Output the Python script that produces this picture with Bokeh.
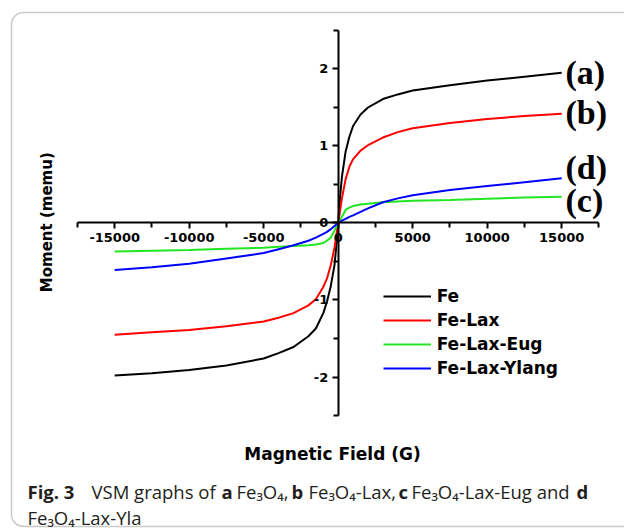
from bokeh.plotting import figure
from bokeh.models import (LinearAxis, FixedTicker, Range1d, Label, Legend, LegendItem,
                          BoxAnnotation, PrintfTickFormatter)
from bokeh.embed import file_html
from bokeh.resources import INLINE

# ---- data ----
field = [-15000, -12500, -10000, -7500, -5000, -4000, -3000, -2000, -1500, -1000, -750, -500, -250, -100,
         0, 100, 250, 500, 750, 1000, 1500, 2000, 3000, 4000, 5000, 7500, 10000, 12500, 15000]
fe = [-1.98, -1.95, -1.91, -1.85, -1.76, -1.69, -1.61, -1.47, -1.37, -1.17, -1.02, -0.82, -0.55, -0.25,
      0.0, 0.28, 0.60, 0.93, 1.12, 1.26, 1.41, 1.50, 1.61, 1.67, 1.72, 1.79, 1.85, 1.90, 1.95]
fe_lax = [-1.45, -1.42, -1.39, -1.34, -1.28, -1.23, -1.17, -1.07, -0.99, -0.83, -0.72, -0.55, -0.32, -0.13,
          0.0, 0.13, 0.32, 0.57, 0.73, 0.83, 0.94, 1.01, 1.11, 1.18, 1.23, 1.30, 1.35, 1.39, 1.42]
fe_lax_eug = [-0.37, -0.36, -0.35, -0.335, -0.32, -0.31, -0.30, -0.29, -0.28, -0.26, -0.23, -0.19, -0.10, -0.04,
              0.0, 0.03, 0.08, 0.17, 0.20, 0.22, 0.24, 0.25, 0.27, 0.28, 0.29, 0.30, 0.315, 0.33, 0.34]
fe_lax_ylang = [-0.61, -0.575, -0.53, -0.46, -0.39, -0.34, -0.29, -0.23, -0.19, -0.14, -0.115, -0.08, -0.04, -0.015,
                0.0, 0.01, 0.03, 0.055, 0.08, 0.10, 0.145, 0.19, 0.27, 0.32, 0.36, 0.43, 0.48, 0.53, 0.58]

series_names = ["Fe", "Fe-Lax", "Fe-Lax-Eug", "Fe-Lax-Ylang"]
series_tags = ["(a)", "(b)", "(d)", "(c)"]
x_ticks = [-15000, -10000, -5000, 0, 5000, 10000, 15000]
x_minor = [-17500, -12500, -7500, -2500, 2500, 7500, 12500, 17500]
y_ticks = [-2, -1, 0, 1, 2]
y_minor = [-2.5, -1.5, -0.5, 0.5, 1.5, 2.5]
x_title = "Magnetic Field (G)"
y_title = "Moment (memu)"

W, H = 624, 530

p = figure(width=W, height=H, output_backend="svg", toolbar_location=None,
           x_axis_type=None, y_axis_type=None,
           x_range=Range1d(-22664, 19215), y_range=Range1d(-3.9935, 2.8896),
           min_border=0, min_border_left=0, min_border_right=0,
           min_border_top=0, min_border_bottom=0)
p.outline_line_color = None
p.background_fill_color = "white"

# rounded frame of the figure panel
box = BoxAnnotation(left=-21926, right=30000, top=2.734, bottom=-3.94,
                    fill_alpha=0, line_color="#4f4f4f", line_width=1.5,
                    border_radius=12)
p.add_layout(box)

AX_FONT = "DejaVu Sans"

xaxis = LinearAxis(fixed_location=0, bounds=(-17500, 17500),
                   ticker=FixedTicker(ticks=x_ticks, minor_ticks=x_minor),
                   formatter=PrintfTickFormatter(format="%d"))
yaxis = LinearAxis(fixed_location=0, bounds=(-2.5, 2.5),
                   ticker=FixedTicker(ticks=y_ticks, minor_ticks=y_minor),
                   formatter=PrintfTickFormatter(format="%d"))
for ax in (xaxis, yaxis):
    ax.axis_line_width = 2
    ax.axis_line_color = "black"
    ax.major_tick_line_width = 2
    ax.minor_tick_line_width = 2
    ax.major_tick_in = 0
    ax.minor_tick_in = 0
    ax.major_tick_out = 6
    ax.minor_tick_out = 5
    ax.major_label_text_font = AX_FONT
    ax.major_label_text_font_style = "bold"
    ax.major_label_text_font_size = "13px"
    ax.major_label_text_color = "black"
    ax.major_label_standoff = 4
p.add_layout(xaxis, "below")
p.add_layout(yaxis, "left")

colors = ["black", "#ff0000", "#22e622", "#0000ff"]
ys = [fe, fe_lax, fe_lax_eug, fe_lax_ylang]
renderers = []
for y, c in zip(ys, colors):
    renderers.append(p.line(field, y, line_color=c, line_width=2))

legend = Legend(items=[LegendItem(label=n, renderers=[r]) for n, r in zip(series_names, renderers)],
                location=(382.7, 152), orientation="vertical",
                border_line_color=None, background_fill_alpha=0,
                padding=0, margin=0, spacing=4,
                glyph_width=48, glyph_height=20, label_height=20, label_standoff=6,
                label_text_font=AX_FONT, label_text_font_style="bold",
                label_text_font_size="17px", label_text_color="black")
p.add_layout(legend)

# curve tags (a)-(d)
tag_y = [72.3, 111.7, 166.7, 200.0]  # image pixel rows
for t, yy in zip(series_tags, tag_y):
    p.add_layout(Label(x=565, y=H - yy, x_units="screen", y_units="screen", text=t,
                       text_font="Liberation Serif", text_font_style="bold",
                       text_font_size="34px", text_align="left", text_baseline="middle",
                       text_color="black"))

# axis titles
p.add_layout(Label(x=332, y=H - 453, x_units="screen", y_units="screen", text=x_title,
                   text_font=AX_FONT, text_font_style="bold", text_font_size="17px",
                   text_align="center", text_baseline="middle", text_color="black"))
p.add_layout(Label(x=46, y=H - 221.7, x_units="screen", y_units="screen", text=y_title,
                   angle=1.5707963, text_font=AX_FONT, text_font_style="bold", text_font_size="15px",
                   text_align="center", text_baseline="middle", text_color="black"))

# caption
CAP_FONT = "Open Sans"
cap1 = [("Fig. 3", 27, "bold"), ("VSM graphs of", 91, "normal"), ("a", 221, "bold"),
        ("Fe\u2083O\u2084,", 236, "normal"), ("b", 291, "bold"), ("Fe\u2083O\u2084-Lax,", 308, "normal"),
        ("c", 398, "bold"), ("Fe\u2083O\u2084-Lax-Eug and", 411, "normal"), ("d", 576, "bold")]
for t, xx, st in cap1:
    p.add_layout(Label(x=xx, y=H - 491, x_units="screen", y_units="screen", text=t,
                       text_font=CAP_FONT, text_font_style=st, text_font_size="18.5px",
                       text_align="left", text_baseline="alphabetic", text_color="#231f20"))
p.add_layout(Label(x=27, y=H - 517, x_units="screen", y_units="screen",
                   text="Fe\u2083O\u2084-Lax-Yla",
                   text_font=CAP_FONT, text_font_style="normal", text_font_size="18.5px",
                   text_align="left", text_baseline="alphabetic", text_color="#231f20"))

open("out.html", "w").write(file_html(p, INLINE))
